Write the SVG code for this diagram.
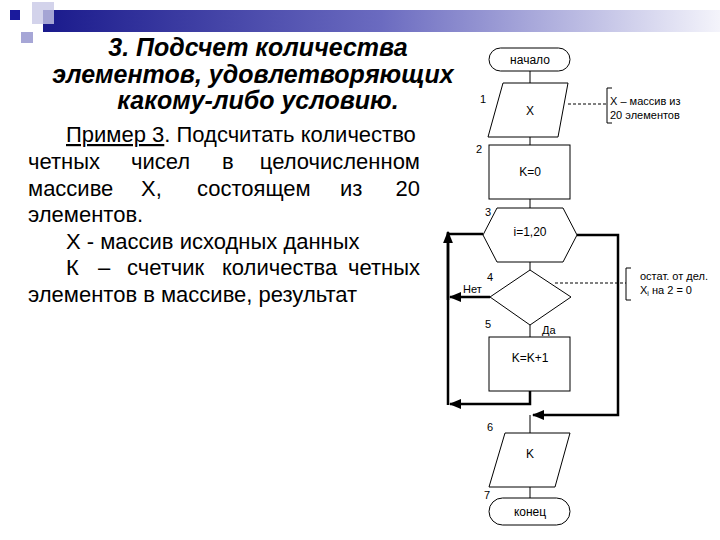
<svg xmlns="http://www.w3.org/2000/svg" width="720" height="540" viewBox="0 0 720 540">
<defs>
<linearGradient id="bar" x1="0" x2="1" y1="0" y2="0"><stop offset="0" stop-color="#1a1a8c"/><stop offset="0.5" stop-color="#6b6bc0"/><stop offset="1" stop-color="#f4f4fb"/></linearGradient>
<marker id="ar" viewBox="0 0 10 10" refX="9" refY="5" markerWidth="5" markerHeight="5" orient="auto"><path d="M0,1 L10,5 L0,9 z" fill="#000"/></marker>
<style>
.s{fill:#fff;stroke:#000;stroke-width:1}
.t{font-family:"Liberation Sans",Arial,sans-serif;font-size:12px;text-anchor:middle}
.n{font-family:"Liberation Sans",Arial,sans-serif;font-size:11px}
.c{fill:none;stroke:#000;stroke-width:1}
.b{fill:none;stroke:#000;stroke-width:2.5}
.d{fill:none;stroke:#000;stroke-width:1;stroke-dasharray:3,2}
.h{font-family:"Liberation Sans",Arial,sans-serif;font-size:25px;font-weight:bold;font-style:italic;text-anchor:middle}
.p{font-family:"Liberation Sans",Arial,sans-serif;font-size:22px}
.e{text-anchor:end}
</style>
</defs>
<rect width="720" height="540" fill="#fff"/>
<g id="decor">
<rect x="43" y="10" width="677" height="22" fill="url(#bar)"/>
<rect x="32" y="2" width="22" height="22" fill="#c8c8e6" opacity="0.8"/>
<rect x="10" y="10" width="10" height="10" fill="#1a1a9c"/>
<rect x="21" y="32" width="12" height="11" fill="#a6a6d6"/>
</g>
<g id="title">
<text class="h" x="258" y="56">3. Подсчет количества</text>
<text class="h" x="253" y="83">элементов, удовлетворяющих</text>
<text class="h" x="258" y="109">какому-либо условию.</text>
</g>
<g id="body">
<text class="p" x="66" y="142"><tspan text-decoration="underline">Пример 3</tspan>. Подсчитать количество</text>
<text class="p" y="169"><tspan x="28">четных</tspan><tspan x="131">чисел</tspan><tspan x="222">в</tspan></text>
<text class="p e" x="420" y="169">целочисленном</text>
<text class="p" y="196"><tspan x="28">массиве</tspan><tspan x="141">X,</tspan><tspan x="197">состоящем</tspan><tspan x="340">из</tspan></text>
<text class="p e" x="420" y="196">20</text>
<text class="p" x="28" y="222">элементов.</text>
<text class="p" x="66" y="249">X - массив исходных данных</text>
<text class="p" y="275"><tspan x="66">К</tspan><tspan x="98">–</tspan><tspan x="127">счетчик</tspan><tspan x="222">количества</tspan></text>
<text class="p e" x="420" y="275">четных</text>
<text class="p" x="28" y="302">элементов в массиве, результат</text>
</g>
<g id="connectors">
<path class="c" d="M530,71 V83 M530,137 V145 M530,199 V208 M530,262 V270 M530,325 V337 M530,415 V433 M530,487 V498"/>
<path class="b" d="M490,297 H450" marker-end="url(#ar)"/>
<path class="b" d="M530,391 V404 H450" marker-end="url(#ar)"/>
<path class="b" d="M448,405 V234 H483"/>
<path class="b" d="M448,300 V232" marker-end="url(#ar)"/>
<path class="b" d="M577,235 H618 V415 H533" marker-end="url(#ar)"/>
<path class="d" d="M568,104 H607 M555,283 H626"/>
<path class="c" d="M612,88 H607 V123 H612 M631,268 H626 V300 H631"/>
</g>
<g id="start"><rect class="s" x="489" y="48" width="81" height="23" rx="11.5"/><text class="t" x="530" y="64">начало</text></g>
<g id="n1"><polygon class="s" points="503,83 568,83 558,137 488,137"/><text class="t" x="530" y="115">X</text><text class="n" x="480" y="103">1</text></g>
<g id="n2"><rect class="s" x="489" y="145" width="81" height="54"/><text class="t" x="530" y="176">K=0</text><text class="n" x="476" y="153">2</text></g>
<g id="n3"><polygon class="s" points="483,235 497,208 563,208 577,235 563,262 497,262"/><text class="t" x="530" y="236">i=1,20</text><text class="n" x="485" y="216">3</text></g>
<g id="n4"><polygon class="s" points="530,270 571,297 530,325 490,297"/><text class="n" x="487" y="281">4</text><text class="n" x="463" y="293">Нет</text></g>
<g id="n5"><rect class="s" x="489" y="337" width="81" height="54"/><text class="t" x="530" y="362">K=K+1</text><text class="n" x="485" y="328">5</text><text class="n" x="542" y="334">Да</text></g>
<g id="n6"><polygon class="s" points="505,433 570,433 555,487 489,487"/><text class="t" x="530" y="458">K</text><text class="n" x="487" y="431">6</text></g>
<g id="end"><rect class="s" x="489" y="498" width="81" height="27" rx="13.5"/><text class="t" x="530" y="516">конец</text><text class="n" x="484" y="499">7</text></g>
<g id="notes">
<text class="n" x="610" y="105">X – массив из</text>
<text class="n" x="610" y="119">20 элементов</text>
<text class="n" x="640" y="280">остат. от дел.</text>
<text class="n" x="640" y="294">X<tspan font-size="7" dy="2">i</tspan><tspan dy="-2"> на 2 = 0</tspan></text>
</g>
</svg>
